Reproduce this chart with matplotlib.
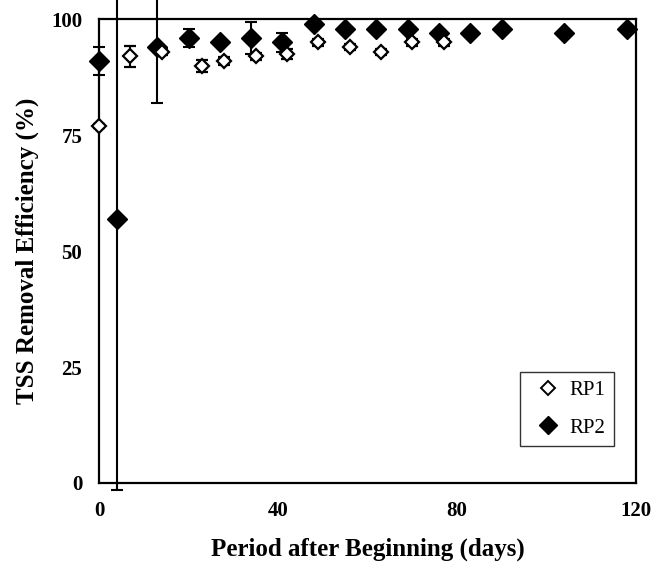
import matplotlib
matplotlib.use("Agg")
import matplotlib.pyplot as plt
from matplotlib.lines import Line2D

plt.rcParams['font.family'] = ['Liberation Serif', 'DejaVu Serif']

# Data
rp1_days = [0, 7, 14, 23, 28, 35, 42, 49, 56, 63, 70, 77]
rp1_eff = [77, 92, 93, 90, 91, 92, 92.5, 95, 94, 93, 95, 95]
rp1_err = [0.5, 2.2, 0.8, 1.3, 0.8, 0.8, 1.0, 0.8, 0.6, 0.6, 0.8, 0.8]

rp2_days = [0, 4, 13, 20, 27, 34, 41, 48, 55, 62, 69, 76, 83, 90, 104, 118]
rp2_eff = [91, 57, 94, 96, 95, 96, 95, 99, 98, 98, 98, 97, 97, 98, 97, 98]
rp2_err = [3, 58.5, 12, 2, 0.5, 3.5, 2, 0.5, 0.5, 0.5, 0.5, 0.5, 0.5, 0.5, 0.5, 0.5]

x_ticks = [0, 40, 80, 120]
y_ticks = [0, 25, 50, 75, 100]

fig = plt.figure(figsize=(6.63, 5.64), dpi=100)
ax = fig.add_axes([99/663, 1-483/564, (636-99)/663, (483-19.3)/564])

e2 = ax.errorbar(rp2_days, rp2_eff, yerr=rp2_err, fmt='D', color='black',
                 markersize=10.5, markerfacecolor='black', markeredgecolor='black',
                 ecolor='black', elinewidth=1.5, capsize=4, capthick=1.5, zorder=3)
e1 = ax.errorbar(rp1_days, rp1_eff, yerr=rp1_err, fmt='D', color='black',
                 markersize=7, markerfacecolor='white', markeredgecolor='black',
                 markeredgewidth=1.6, ecolor='black', elinewidth=1.5, capsize=4,
                 capthick=1.5, zorder=4)
for e in (e1, e2):
    e.lines[0].set_clip_on(False)
    for art in list(e.lines[1]) + list(e.lines[2]):
        art.set_clip_on(False)

ax.set_xlim(0, 120)
ax.set_ylim(0, 100)
ax.set_xticks(x_ticks)
ax.set_yticks(y_ticks)
ax.tick_params(length=0, labelsize=15)
ax.tick_params(axis='y', pad=12)
ax.tick_params(axis='x', pad=13)
for lab in ax.get_xticklabels() + ax.get_yticklabels():
    lab.set_fontweight('bold')
for sp in ax.spines.values():
    sp.set_linewidth(1.6)

ax.set_xlabel('Period after Beginning (days)', fontsize=18, fontweight='bold', labelpad=12)
ax.set_ylabel('TSS Removal Efficiency (%)', fontsize=18, fontweight='bold', labelpad=9)

handles = [Line2D([], [], marker='D', linestyle='none', markersize=7,
                  markerfacecolor='white', markeredgecolor='black', markeredgewidth=1.4),
           Line2D([], [], marker='D', linestyle='none', markersize=9,
                  markerfacecolor='black', markeredgecolor='black')]
leg = ax.legend(handles, ['RP1', 'RP2'], loc='lower right',
                bbox_to_anchor=((614-99)/537, (483-446)/463.7),
                fontsize=15, frameon=True, fancybox=False, edgecolor='black',
                handlelength=1.9, handletextpad=0.1, labelspacing=0.85,
                borderpad=0.4, borderaxespad=0)
leg.get_frame().set_linewidth(1.0)

fig.savefig('out.png', dpi=100)
